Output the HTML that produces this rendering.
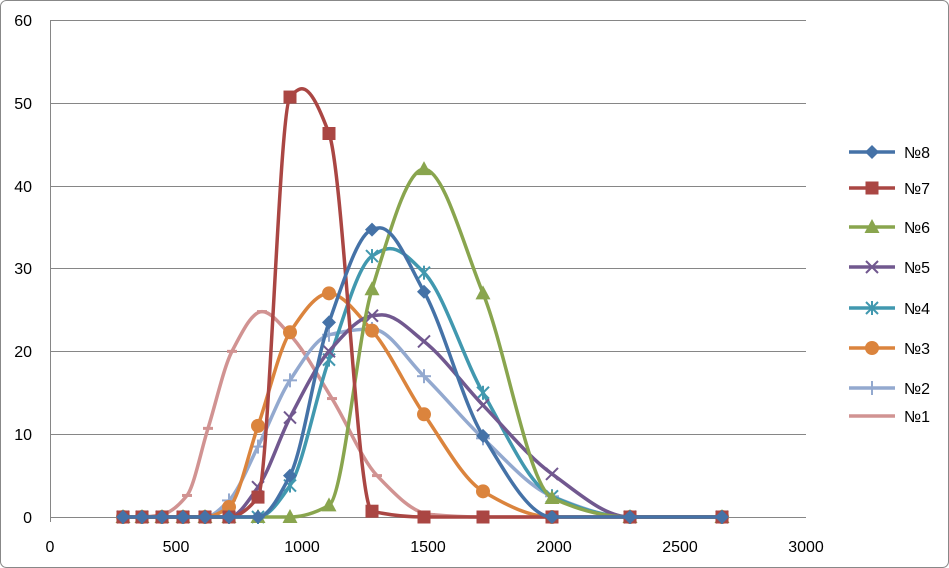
<!DOCTYPE html>
<html><head><meta charset="utf-8"><style>
html,body{margin:0;padding:0;background:#fff;}
svg{display:block;font-family:"Liberation Sans",sans-serif;}
</style></head><body>
<svg id="s" width="949" height="568" xmlns="http://www.w3.org/2000/svg">
<rect x="0.5" y="0.5" width="948" height="567" rx="6" fill="#fff" stroke="#888"/>
<g stroke="#868686" stroke-width="1">
<line x1="50" y1="20.5" x2="806" y2="20.5"/>
<line x1="50" y1="103.5" x2="806" y2="103.5"/>
<line x1="50" y1="186.5" x2="806" y2="186.5"/>
<line x1="50" y1="268.5" x2="806" y2="268.5"/>
<line x1="50" y1="351.5" x2="806" y2="351.5"/>
<line x1="50" y1="434.5" x2="806" y2="434.5"/>
<line x1="50" y1="517.5" x2="806" y2="517.5"/>
<line x1="50.5" y1="20" x2="50.5" y2="522"/>
</g>
<g font-size="16" fill="#000" text-anchor="end">
<text x="32" y="26">60</text><text x="32" y="109">50</text><text x="32" y="192">40</text>
<text x="32" y="274">30</text><text x="32" y="357">20</text><text x="32" y="440">10</text><text x="32" y="523">0</text>
</g>
<g font-size="16" fill="#000" text-anchor="middle">
<text x="50" y="552">0</text><text x="176" y="552">500</text><text x="302" y="552">1000</text>
<text x="428" y="552">1500</text><text x="554" y="552">2000</text><text x="680" y="552">2500</text><text x="806" y="552">3000</text>
</g>
<g id="plot"></g>
<g id="leg" font-size="16" fill="#000"></g>
</svg>
<script>
var X=[123,142,162,183,205,229,258,290,329,372,424,483,552,630,722];
function Y(v){return 517-v*8.283;}
var S=[
["№1","#D19392","dash",[123,142,162,187,208,232,262,290,332,377,430,483,552,630,722],[0,0,0.3,2.6,10.7,20,24.8,22,14.3,5,0.3,0,0,0,0]],
["№2","#93A9CF","plus",X,[0,0,0,0,0,2,8.5,16.5,22,22.7,17,9.5,2.5,0,0]],
["№3","#DB843D","circle",X,[0,0,0,0,0,1.2,11,22.3,27,22.5,12.4,3.1,0,0,0]],
["№4","#4198AF","star",X,[0,0,0,0,0,0,0,3.8,19,31.5,29.5,15,2.5,0,0],[390,32.4]],
["№5","#71588F","x",X,[0,0,0,0,0,0,3.6,12,20,24.3,21.2,13.5,5.2,0,0],[382,24.4]],
["№6","#89A54E","tri",X,[0,0,0,0,0,0,0,0,1.4,27.5,42,27,2.3,0,0]],
["№7","#AA4643","sq",X,[0,0,0,0,0,0,2.4,50.7,46.3,0.7,0,0,0,0,0],[302,51.7]],
["№8","#4572A7","dia",X,[0,0,0,0,0,0,0,5,23.5,34.7,27.2,9.8,0,0,0],[380,34.9]]
];
function path(xs,ys){
var n=xs.length,px=xs,py=ys.map(Y),d=[],m=[];
for(var i=0;i<n-1;i++)d[i]=(py[i+1]-py[i])/(px[i+1]-px[i]);
m[0]=d[0];m[n-1]=d[n-2];
for(var i=1;i<n-1;i++){if(d[i-1]*d[i]<=0)m[i]=0;else{var w1=2*(px[i+1]-px[i])+(px[i]-px[i-1]),w2=(px[i+1]-px[i])+2*(px[i]-px[i-1]);m[i]=(w1+w2)/(w1/d[i-1]+w2/d[i]);}}
var s="M"+px[0]+","+py[0];
for(var i=0;i<n-1;i++){var h=(px[i+1]-px[i])/3;
s+=" C"+(px[i]+h)+","+(py[i]+m[i]*h)+" "+(px[i+1]-h)+","+(py[i+1]-m[i+1]*h)+" "+px[i+1]+","+py[i+1];}
return s;}
function mk(t,x,y,c){
if(t=="dia")return '<polygon points="'+x+','+(y-7)+' '+(x+7)+','+y+' '+x+','+(y+7)+' '+(x-7)+','+y+'" fill="'+c+'"/>';
if(t=="sq")return '<rect x="'+(x-6.5)+'" y="'+(y-6.5)+'" width="13" height="13" fill="'+c+'"/>';
if(t=="tri")return '<polygon points="'+x+','+(y-8)+' '+(x+7.5)+','+(y+6)+' '+(x-7.5)+','+(y+6)+'" fill="'+c+'"/>';
if(t=="circle")return '<circle cx="'+x+'" cy="'+y+'" r="7" fill="'+c+'"/>';
var s='<g stroke="'+c+'" stroke-width="2">';
if(t=="x")s+='<line x1="'+(x-6)+'" y1="'+(y-6)+'" x2="'+(x+6)+'" y2="'+(y+6)+'"/><line x1="'+(x-6)+'" y1="'+(y+6)+'" x2="'+(x+6)+'" y2="'+(y-6)+'"/>';
if(t=="star")s+='<line x1="'+(x-6)+'" y1="'+(y-6)+'" x2="'+(x+6)+'" y2="'+(y+6)+'"/><line x1="'+(x-6)+'" y1="'+(y+6)+'" x2="'+(x+6)+'" y2="'+(y-6)+'"/><line x1="'+x+'" y1="'+(y-7)+'" x2="'+x+'" y2="'+(y+7)+'"/>';
if(t=="plus")s+='<line x1="'+(x-7)+'" y1="'+y+'" x2="'+(x+7)+'" y2="'+y+'"/><line x1="'+x+'" y1="'+(y-7)+'" x2="'+x+'" y2="'+(y+7)+'"/>';
if(t=="dash")s+='<line x1="'+(x-5)+'" y1="'+y+'" x2="'+(x+5)+'" y2="'+y+'" stroke-width="3"/>';
return s+'</g>';}
var h="";
S.forEach(function(s){
var xs=s[3].slice(),ys=s[4].slice();
if(s[5]){var k=0;while(xs[k]<s[5][0])k++;xs.splice(k,0,s[5][0]);ys.splice(k,0,s[5][1]);}
h+='<path d="'+path(xs,ys)+'" fill="none" stroke="'+s[1]+'" stroke-width="3.5"/>';
s[3].forEach(function(x,i){h+=mk(s[2],x,Y(s[4][i]),s[1]);});});
document.getElementById("plot").innerHTML=h;
var ly=[416,388,348,308,267,227,188,152],l="";
S.forEach(function(s,i){var y=ly[i];l+='<line x1="849" y1="'+y+'" x2="895" y2="'+y+'" stroke="'+s[1]+'" stroke-width="3.5"/>'+mk(s[2],872,y,s[1])+'<text x="904" y="'+(y+6)+'">'+s[0]+'</text>';});
document.getElementById("leg").innerHTML=l;
</script>
</body></html>
